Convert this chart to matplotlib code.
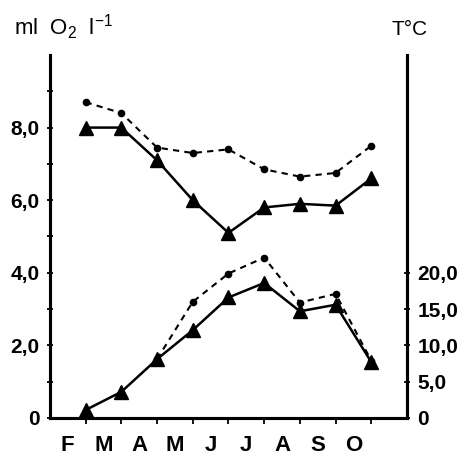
import numpy as np
import matplotlib
matplotlib.use("Agg")
import matplotlib.pyplot as plt
from matplotlib.ticker import FixedLocator, NullFormatter

# Monthly series, end-of-month sampling points
months = ["F", "M", "A", "M", "J", "J", "A", "S", "O"]
o2_solid = [8.0, 8.0, 7.1, 6.0, 5.1, 5.8, 5.9, 5.85, 6.6]
o2_dashed = [8.7, 8.4, 7.45, 7.3, 7.4, 6.85, 6.65, 6.75, 7.5]
temp_solid = [1.1, 3.6, 8.1, 12.1, 16.6, 18.6, 14.7, 15.6, 7.7]
temp_dashed = [np.nan, np.nan, 8.1, 16.0, 19.9, 22.1, 15.9, 17.1, 7.9]

o2_ticks = [0, 2, 4, 6, 8]
o2_ticklabels = ["0", "2,0", "4,0", "6,0", "8,0"]
t_ticks = [0, 5, 10, 15, 20]
t_ticklabels = ["0", "5,0", "10,0", "15,0", "20,0"]

plt.rcParams["font.family"] = ["Liberation Sans", "DejaVu Sans"]
plt.rcParams["mathtext.fontset"] = "custom"
plt.rcParams["mathtext.rm"] = "Liberation Sans"
plt.rcParams["mathtext.it"] = "Liberation Sans"

fig = plt.figure(figsize=(4.62, 4.61), dpi=100)
ax = fig.add_axes([0.108, 0.0933, 0.773, 0.7874])
ax2 = ax.twinx()

x = np.arange(1, len(months) + 1)

line_kw = dict(color="black", solid_capstyle="round")
ax.plot(x, o2_solid, "-", marker="^", ms=10, lw=1.8, **line_kw)
ax.plot(x, o2_dashed, ls=(0, (3, 2.5)), marker="o", ms=4.5, lw=1.5, **line_kw)
ax2.plot(x, temp_solid, "-", marker="^", ms=10, lw=1.8, **line_kw)
ax2.plot(x, temp_dashed, ls=(0, (3, 2.5)), marker="o", ms=4.5, lw=1.5, **line_kw)

ax.set_xlim(0, 10)
ax.set_ylim(0, 10)
ax2.set_ylim(0, 50)

for a in (ax, ax2):
    a.spines["top"].set_visible(False)
    for s in ("left", "right", "bottom"):
        a.spines[s].set_linewidth(2.2)

# left axis: oxygen
ax.yaxis.set_major_locator(FixedLocator(o2_ticks))
ax.set_yticklabels(o2_ticklabels)
ax.yaxis.set_minor_locator(FixedLocator([1, 3, 5, 7, 9]))
ax.tick_params(axis="y", which="both", direction="inout", length=5, width=1.3,
               labelsize=15, pad=5)
for lab in ax.get_yticklabels():
    lab.set_fontweight("bold")

# right axis: temperature
ax2.yaxis.set_major_locator(FixedLocator(t_ticks))
ax2.set_yticklabels(t_ticklabels)
ax2.tick_params(axis="y", which="both", direction="inout", length=5, width=1.3,
                labelsize=15, pad=5)
for lab in ax2.get_yticklabels():
    lab.set_fontweight("bold")

# bottom axis: ticks at month ends, labels centred on each month
ax.xaxis.set_major_locator(FixedLocator(x))
ax.xaxis.set_major_formatter(NullFormatter())
ax.xaxis.set_minor_locator(FixedLocator(x - 0.5))
ax.set_xticklabels(months, minor=True)
ax.tick_params(axis="x", which="major", direction="out", length=4, width=1.3)
ax.tick_params(axis="x", which="minor", length=0, labelsize=16, pad=12)
for lab in ax.get_xticklabels(minor=True):
    lab.set_fontweight("bold")

fig.text(0.03, 0.925, r"ml  O$_2$  l$^{-1}$", fontsize=16, ha="left", va="baseline")
fig.text(0.848, 0.925, "T°C", fontsize=15, ha="left", va="baseline")

fig.savefig("out.png", dpi=100)
